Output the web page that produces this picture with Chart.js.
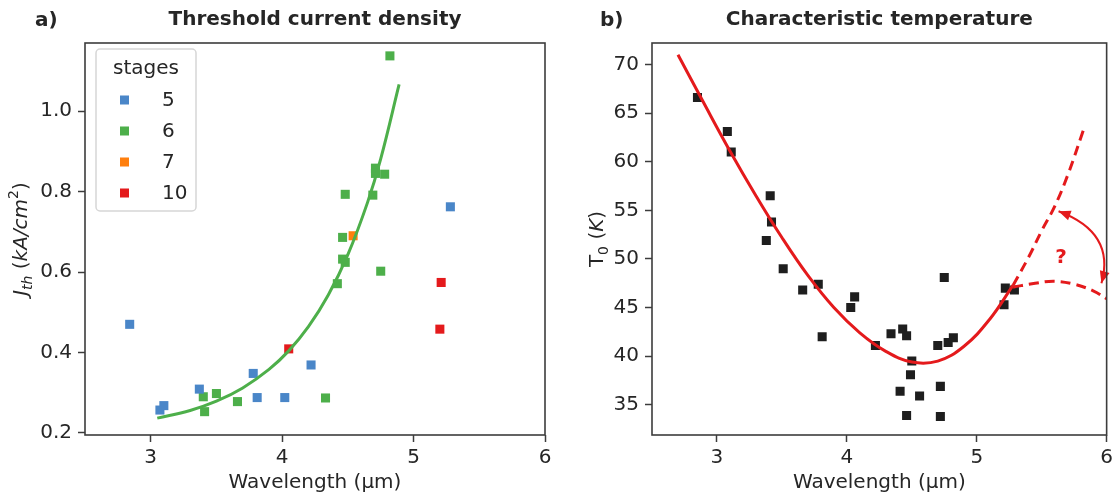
<!DOCTYPE html>
<html lang="en">
<head>
<meta charset="UTF-8">
<title>Threshold current density / Characteristic temperature</title>
<script src="https://cdn.jsdelivr.net/npm/chart.js@4.4.1/dist/chart.umd.min.js"></script>
<style>
  html, body { margin: 0; padding: 0; background: #fff; }
  #wrap { position: relative; width: 1117px; height: 498px; }
  #wrap canvas { position: absolute; top: 0; }
</style>
</head>
<body>
<div id="wrap">
  <canvas id="chartA" width="558" height="498" style="left:0"></canvas>
  <canvas id="chartB" width="559" height="498" style="left:558px"></canvas>
</div>

<script>
// ---- a) threshold current density, one pair of arrays per number of stages
var stageLabels = ['5', '6', '7', '10'];

var wl5  = [2.84, 3.07, 3.10, 3.37, 3.78, 3.81, 4.02, 4.22, 5.28];
var jth5 = [0.470, 0.257, 0.268, 0.309, 0.348, 0.288, 0.288, 0.369, 0.762];

var wl6  = [3.40, 3.41, 3.50, 3.66, 4.33, 4.42, 4.46, 4.46, 4.48, 4.48, 4.69, 4.71, 4.71, 4.75, 4.78, 4.82];
var jth6 = [0.290, 0.253, 0.298, 0.278, 0.287, 0.571, 0.686, 0.632, 0.624, 0.793, 0.791, 0.858, 0.845, 0.602, 0.843, 1.137];

var wl7  = [4.54];
var jth7 = [0.690];

var wl10  = [4.05, 5.21, 5.20];
var jth10 = [0.409, 0.574, 0.458];

// fitted curve through the 6-stage devices
var fitWl  = [3.05, 3.30, 3.50, 3.70, 3.90, 4.05, 4.20, 4.35, 4.50, 4.65, 4.75, 4.89];
var fitJth = [0.237, 0.256, 0.279, 0.312, 0.358, 0.404, 0.464, 0.542, 0.643, 0.773, 0.881, 1.066];

// ---- b) characteristic temperature
var wlT0 = [2.85, 3.08, 3.11, 3.41, 3.42, 3.38, 3.51, 3.66, 3.78, 3.81, 4.03, 4.06, 4.22, 4.34, 4.43,
            4.46, 4.50, 4.49, 4.41, 4.56, 4.46, 4.72, 4.72, 4.70, 4.78, 4.82, 4.75, 5.21, 5.22, 5.29];
var t0   = [66.6, 63.1, 61.0, 56.5, 53.8, 51.9, 49.0, 46.8, 47.4, 42.0, 45.0, 46.1, 41.1, 42.3, 42.8,
            42.1, 39.5, 38.1, 36.4, 35.9, 33.9, 36.9, 33.8, 41.1, 41.4, 41.9, 48.1, 45.3, 47.0, 46.8];

// fitted curve (solid) and the two possible continuations (dashed)
var fitWlT  = [2.70, 2.90, 3.10, 3.30, 3.50, 3.70, 3.90, 4.10, 4.30, 4.50, 4.70, 4.90, 5.10, 5.28];
var fitT0   = [71.0, 66.0, 61.1, 56.5, 52.2, 48.3, 45.0, 42.4, 40.5, 39.4, 39.5, 41.0, 43.8, 47.3];
var upWl    = [5.28, 5.40, 5.50, 5.60, 5.70, 5.82];
var upT0    = [47.3, 50.2, 52.9, 55.4, 58.6, 63.2];
var downWl  = [5.28, 5.45, 5.60, 5.75, 5.90, 6.00];
var downT0  = [47.1, 47.5, 47.7, 47.4, 46.7, 45.9];

// curved "?" arrow between the two branches: start, bend, end (data units)
var arrowWl = [5.63, 6.07, 5.96];
var arrowT0 = [54.9, 52.7, 47.5];
var qMarkWl = 5.65, qMarkT0 = 50.1;

var FONT = '"DejaVu Sans", sans-serif';
var INK = '#262626';
var BLUE = '#4a86c8', GREEN = '#4daf4a', ORANGE = '#ff7f0e', RED = '#e41a1c';
var stageColors = [BLUE, GREEN, ORANGE, RED];

function pts(xs, ys) {
    return xs.map(function (x, i) { return { x: x, y: ys[i] }; });
}

function markers(label, xs, ys, color) {
    return {
        label: label, data: pts(xs, ys),
        backgroundColor: color, borderWidth: 0,
        pointStyle: 'rect', pointRadius: 6.4, pointHoverRadius: 6.4,
        order: 1
    };
}

function xAxis() {
    return {
        type: 'linear', min: 2.5, max: 6,
        ticks: { stepSize: 1, includeBounds: false, padding: 4, color: INK, font: { family: FONT, size: 20 } },
        grid: { drawOnChartArea: false, tickLength: 7, tickWidth: 1.5, tickColor: '#3c3c3c' },
        border: { display: false },
        title: { display: true, text: 'Wavelength (µm)', color: INK, font: { family: FONT, size: 20 }, padding: { top: 0, bottom: 3 } },
        afterFit: function (s) { s.height = 63; }
    };
}

function yAxis(min, max, step, width, fmt) {
    return {
        type: 'linear', min: min, max: max,
        ticks: { stepSize: step, includeBounds: false, padding: 6, color: INK, font: { family: FONT, size: 20 }, callback: fmt },
        grid: { drawOnChartArea: false, tickLength: 7, tickWidth: 1.5, tickColor: '#3c3c3c' },
        border: { display: false },
        afterFit: function (s) { s.width = width; }
    };
}

// frame, panel title, tag and the math-style y label
var panelDecor = {
    id: 'panelDecor',
    afterDraw: function (chart, args, opts) {
        var ctx = chart.ctx, a = chart.chartArea;
        ctx.save();
        ctx.strokeStyle = '#3c3c3c';
        ctx.lineWidth = 1.6;
        ctx.strokeRect(a.left, a.top, a.right - a.left, a.bottom - a.top);

        ctx.fillStyle = INK;
        ctx.font = 'bold 20px ' + FONT;
        ctx.textBaseline = 'middle';
        ctx.textAlign = 'center';
        ctx.fillText(opts.title, (a.left + a.right) / 2, 20);
        ctx.textAlign = 'left';
        ctx.fillText(opts.tag, opts.tagX, 21);

        // y label built from pieces: [text, style]
        var fonts = {
            n: '20px ' + FONT, i: 'italic 20px ' + FONT,
            sub: '14px ' + FONT, subi: 'italic 14px ' + FONT, sup: '14px ' + FONT
        };
        var shift = { n: 0, i: 0, sub: 5, subi: 5, sup: -9 };
        var total = 0;
        opts.yLabel.forEach(function (p) { ctx.font = fonts[p[1]]; total += ctx.measureText(p[0]).width; });
        ctx.translate(opts.yLabelX, (a.top + a.bottom) / 2);
        ctx.rotate(-Math.PI / 2);
        ctx.textBaseline = 'alphabetic';
        var cx = -total / 2;
        opts.yLabel.forEach(function (p) {
            ctx.font = fonts[p[1]];
            ctx.fillText(p[0], cx, 7 + shift[p[1]]);
            cx += ctx.measureText(p[0]).width;
        });
        ctx.restore();
    }
};

// boxed legend with a title, drawn in the upper left of the plot
var stageLegend = {
    id: 'stageLegend',
    afterDraw: function (chart) {
        var ctx = chart.ctx, a = chart.chartArea;
        var left = a.left + 11, top = a.top + 6, w = 100, h = 162;
        var items = chart.data.datasets.filter(function (d) { return !d.isFit; });
        ctx.save();
        ctx.beginPath();
        ctx.roundRect(left, top, w, h, 4);
        ctx.fillStyle = 'rgba(255,255,255,0.8)';
        ctx.fill();
        ctx.strokeStyle = '#d6d6d6';
        ctx.lineWidth = 1.5;
        ctx.stroke();

        ctx.fillStyle = INK;
        ctx.font = '20px ' + FONT;
        ctx.textBaseline = 'middle';
        ctx.textAlign = 'center';
        ctx.fillText('stages', left + w / 2, top + 20);
        ctx.textAlign = 'left';
        items.forEach(function (d, i) {
            var yy = top + 51 + i * 31;
            ctx.fillStyle = d.backgroundColor;
            ctx.fillRect(left + 24, yy - 4.5, 9, 9);
            ctx.fillStyle = INK;
            ctx.fillText(d.label, left + 66, yy + 1);
        });
        ctx.restore();
    }
};

// curved double arrow and "?" between the two dashed continuations
var openEnd = {
    id: 'openEnd',
    afterDatasetsDraw: function (chart) {
        var ctx = chart.ctx, x = chart.scales.x, y = chart.scales.y;
        var p = arrowWl.map(function (w, i) { return [x.getPixelForValue(w), y.getPixelForValue(arrowT0[i])]; });
        function head(tip, from) {
            var ang = Math.atan2(tip[1] - from[1], tip[0] - from[0]);
            ctx.beginPath();
            ctx.moveTo(tip[0], tip[1]);
            ctx.lineTo(tip[0] - 12 * Math.cos(ang) + 5 * Math.sin(ang), tip[1] - 12 * Math.sin(ang) - 5 * Math.cos(ang));
            ctx.lineTo(tip[0] - 12 * Math.cos(ang) - 5 * Math.sin(ang), tip[1] - 12 * Math.sin(ang) + 5 * Math.cos(ang));
            ctx.closePath();
            ctx.fill();
        }
        ctx.save();
        ctx.strokeStyle = RED;
        ctx.fillStyle = RED;
        ctx.lineWidth = 2;
        ctx.beginPath();
        ctx.moveTo(p[0][0], p[0][1]);
        ctx.quadraticCurveTo(p[1][0], p[1][1], p[2][0], p[2][1]);
        ctx.stroke();
        head(p[0], p[1]);
        head(p[2], p[1]);
        ctx.font = 'bold 20px ' + FONT;
        ctx.textAlign = 'center';
        ctx.textBaseline = 'middle';
        ctx.fillText('?', x.getPixelForValue(qMarkWl), y.getPixelForValue(qMarkT0));
        ctx.restore();
    }
};

Chart.defaults.font.family = FONT;

new Chart(document.getElementById('chartA'), {
    type: 'scatter',
    data: {
        datasets: [
            { label: 'fit', isFit: true, data: pts(fitWl, fitJth), showLine: true, pointRadius: 0,
              borderColor: GREEN, borderWidth: 3, tension: 0.4, order: 0 },
            markers(stageLabels[0], wl5, jth5, stageColors[0]),
            markers(stageLabels[1], wl6, jth6, stageColors[1]),
            markers(stageLabels[2], wl7, jth7, stageColors[2]),
            markers(stageLabels[3], wl10, jth10, stageColors[3])
        ]
    },
    options: {
        responsive: false,
        animation: false,
        layout: { padding: { top: 43, right: 13, bottom: 0, left: 0 } },
        scales: {
            x: xAxis(),
            y: yAxis(0.195, 1.169, 0.2, 85, function (v) { return v.toFixed(1); })
        },
        plugins: {
            legend: { display: false },
            tooltip: { enabled: false },
            panelDecor: {
                title: 'Threshold current density', tag: 'a)', tagX: 35, yLabelX: 20,
                yLabel: [['J', 'i'], ['th', 'subi'], [' (', 'n'], ['kA/cm', 'i'], ['2', 'sup'], [')', 'n']]
            }
        }
    },
    plugins: [panelDecor, stageLegend]
});

new Chart(document.getElementById('chartB'), {
    type: 'scatter',
    data: {
        datasets: [
            { label: 'fit', data: pts(fitWlT, fitT0), showLine: true, pointRadius: 0,
              borderColor: RED, borderWidth: 3, tension: 0.4, order: 0 },
            { label: 'rise', data: pts(upWl, upT0), showLine: true, pointRadius: 0,
              borderColor: RED, borderWidth: 3, borderDash: [10, 6], tension: 0.4, order: 0 },
            { label: 'saturate', data: pts(downWl, downT0), showLine: true, pointRadius: 0,
              borderColor: RED, borderWidth: 3, borderDash: [10, 6], tension: 0.4, order: 0 },
            markers('T0', wlT0, t0, '#1e1e1e')
        ]
    },
    options: {
        responsive: false,
        animation: false,
        layout: { padding: { top: 43, right: 7, bottom: 0, left: 0 } },
        scales: {
            x: xAxis(),
            y: yAxis(31.9, 72.2, 5, 94)
        },
        plugins: {
            legend: { display: false },
            tooltip: { enabled: false },
            panelDecor: {
                title: 'Characteristic temperature', tag: 'b)', tagX: 42, yLabelX: 38,
                yLabel: [['T', 'n'], ['0', 'sub'], [' (', 'n'], ['K', 'i'], [')', 'n']]
            }
        }
    },
    plugins: [panelDecor, openEnd]
});
</script>
</body>
</html>
